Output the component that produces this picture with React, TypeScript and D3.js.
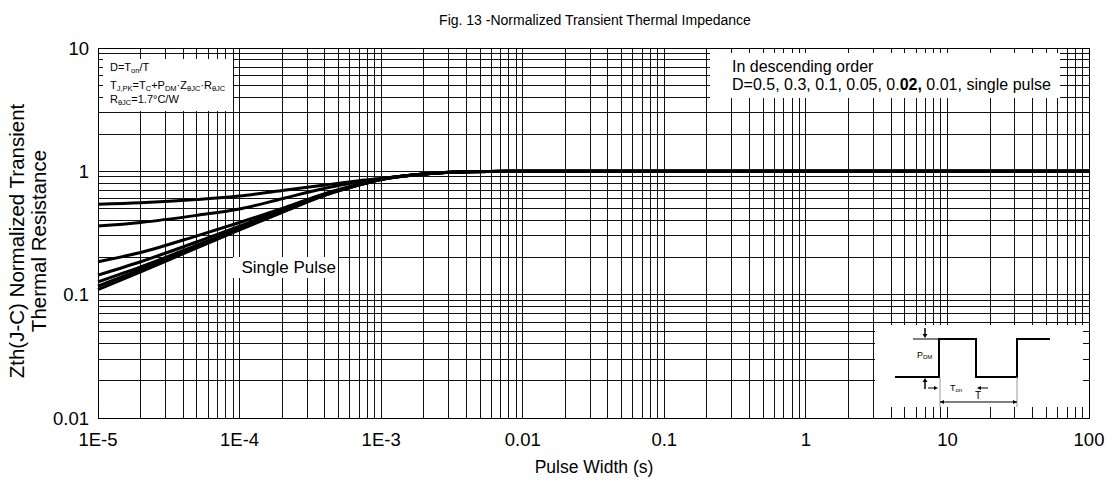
import React from "react";
import * as d3 from "d3";

const pulseWidths = [1e-5, 2e-5, 5e-5, 1e-4, 2e-4, 4e-4, 7e-4, 1e-3, 2e-3, 4e-3, 1e-2, 0.1, 1, 10, 100];
const zD050 = [0.54, 0.555, 0.59, 0.63, 0.70, 0.775, 0.84, 0.875, 0.95, 0.99, 1.0, 1.0, 1.0, 1.0, 1.0];
const zD030 = [0.36, 0.385, 0.44, 0.495, 0.60, 0.73, 0.82, 0.87, 0.95, 0.99, 1.0, 1.0, 1.0, 1.0, 1.0];
const zD010 = [0.185, 0.22, 0.30, 0.385, 0.50, 0.66, 0.785, 0.865, 0.95, 0.99, 1.0, 1.0, 1.0, 1.0, 1.0];
const zD005 = [0.144, 0.185, 0.268, 0.36, 0.48, 0.65, 0.78, 0.862, 0.95, 0.99, 1.0, 1.0, 1.0, 1.0, 1.0];
const zD002 = [0.127, 0.168, 0.252, 0.345, 0.472, 0.645, 0.777, 0.86, 0.95, 0.99, 1.0, 1.0, 1.0, 1.0, 1.0];
const zD001 = [0.117, 0.16, 0.245, 0.34, 0.468, 0.642, 0.776, 0.86, 0.95, 0.99, 1.0, 1.0, 1.0, 1.0, 1.0];
const zSingle = [0.11, 0.153, 0.24, 0.335, 0.465, 0.64, 0.775, 0.86, 0.95, 0.99, 1.0, 1.0, 1.0, 1.0, 1.0];
const seriesList = [zD050, zD030, zD010, zD005, zD002, zD001, zSingle];

const xTickValues = [1e-5, 1e-4, 1e-3, 1e-2, 0.1, 1, 10, 100];
const xTickLabels = ["1E-5", "1E-4", "1E-3", "0.01", "0.1", "1", "10", "100"];
const yTickValues = [10, 1, 0.1, 0.01];
const yTickLabels = ["10", "1", "0.1", "0.01"];

const W = 1106, H = 484;
const L = 98, R = 1089, T = 48, B = 418;
const FONT = "'Liberation Sans', Arial, Helvetica, sans-serif";

function logGrid(lo: number, hi: number): number[] {
  const out: number[] = [];
  for (let e = lo; e < hi; e++) for (let k = 1; k <= 9; k++) out.push(k * Math.pow(10, e));
  out.push(Math.pow(10, hi));
  return out;
}

export default function App() {
  const x = d3.scaleLog().domain([1e-5, 100]).range([L, R]);
  const y = d3.scaleLog().domain([0.01, 10]).range([B, T]);
  const xGrid = logGrid(-5, 2);
  const yGrid = logGrid(-2, 1);
  const line = d3
    .line<[number, number]>()
    .x((d) => x(d[0]))
    .y((d) => y(d[1]))
    .curve(d3.curveMonotoneX);

  const bx = 875, by = 325;
  const hi = by + 14, lo = by + 52;
  const w0 = bx + 20, w1 = bx + 64, w2 = bx + 101, w3 = bx + 142, w4 = bx + 175;
  const ax = bx + 50;

  return (
    <svg width={W} height={H} style={{ position: "absolute", left: 0, top: 0, background: "#fff" }} fontFamily={FONT}>
      <rect x={0} y={0} width={W} height={H} fill="#fff" />
      <text x={595} y={25} fontSize={14} textAnchor="middle" fill="#000">
        Fig. 13 -Normalized Transient Thermal Impedance
      </text>
      {/* grid */}
      <g stroke="#111" strokeWidth={1} shapeRendering="crispEdges">
        {xGrid.map((v, i) => (
          <line key={"gx" + i} x1={x(v)} x2={x(v)} y1={T} y2={B} />
        ))}
        {yGrid.map((v, i) => (
          <line key={"gy" + i} x1={L} x2={R} y1={y(v)} y2={y(v)} />
        ))}
      </g>
      {/* curves */}
      <g fill="none" stroke="#000" strokeWidth={3} strokeLinejoin="round">
        {seriesList.map((s, i) => (
          <path key={"s" + i} d={line(pulseWidths.map((t, j) => [t, s[j]]) as [number, number][]) || ""} />
        ))}
      </g>
      {/* annotation boxes */}
      <rect x={L} y={59} width={135} height={52} fill="#fff" />
      <rect x={710} y={T} width={350} height={50} fill="#fff" />
      <rect x={233} y={257} width={105} height={21} fill="#fff" />
      <rect x={bx} y={by} width={208} height={82} fill="#fff" />
      {/* inward ticks */}
      <g stroke="#111" strokeWidth={1} shapeRendering="crispEdges">
        {xGrid.map((v, i) => (
          <g key={"tx" + i}>
            <line x1={x(v)} x2={x(v)} y1={T} y2={T + 5} />
            <line x1={x(v)} x2={x(v)} y1={B} y2={B - 5} />
          </g>
        ))}
        {yGrid.map((v, i) => (
          <g key={"ty" + i}>
            <line x1={L} x2={L + 5} y1={y(v)} y2={y(v)} />
            <line x1={R} x2={R - 5} y1={y(v)} y2={y(v)} />
          </g>
        ))}
      </g>
      <rect x={L} y={T} width={R - L} height={B - T} fill="none" stroke="#000" strokeWidth={1} shapeRendering="crispEdges" />
      {/* box 1 text */}
      <g fontSize={11} fill="#000">
        <text x={110} y={71}>
          D=T<tspan fontSize={7.5} dy={2}>on</tspan><tspan dy={-2}>/T</tspan>
        </text>
        <text x={110} y={89}>
          T<tspan fontSize={7.5} dy={2}>J,PK</tspan><tspan dy={-2}>=T</tspan>
          <tspan fontSize={7.5} dy={2}>C</tspan><tspan dy={-2}>+P</tspan>
          <tspan fontSize={7.5} dy={2}>DM</tspan><tspan dy={-2}>·Z</tspan>
          <tspan fontSize={7.5} dy={2}>θJC</tspan><tspan dy={-2}>·R</tspan>
          <tspan fontSize={7.5} dy={2}>θJC</tspan>
        </text>
        <text x={110} y={103}>
          R<tspan fontSize={7.5} dy={2}>θJC</tspan><tspan dy={-2}>=1.7°C/W</tspan>
        </text>
      </g>
      {/* box 2 text */}
      <g fontSize={16} fill="#000">
        <text x={732} y={72}>In descending order</text>
        <text x={732} y={90}>
          D=0.5, 0.3, 0.1, 0.05, 0.<tspan fontWeight="bold">02,</tspan> 0.01, single pulse
        </text>
      </g>
      <text x={241.5} y={273} fontSize={17} fill="#000">Single Pulse</text>
      {/* inset waveform */}
      <g>
        <path
          d={`M${w0},${lo}H${w1}V${hi}H${w2}V${lo}H${w3}V${hi}H${w4}`}
          fill="none"
          stroke="#000"
          strokeWidth={2}
        />
        <line x1={bx + 38} x2={w1} y1={hi} y2={hi} stroke="#000" strokeWidth={1} />
        <line x1={ax} x2={ax} y1={by + 3} y2={hi - 4} stroke="#000" strokeWidth={1.5} />
        <path d={`M${ax - 2.5},${hi - 5}L${ax + 2.5},${hi - 5}L${ax},${hi - 1}Z`} fill="#000" />
        <line x1={ax} x2={ax} y1={lo + 12} y2={lo + 4} stroke="#000" strokeWidth={1.5} />
        <path d={`M${ax - 2.5},${lo + 5}L${ax + 2.5},${lo + 5}L${ax},${lo + 1}Z`} fill="#000" />
        <text x={bx + 42} y={by + 33} fontSize={9} fill="#000">
          P<tspan fontSize={6} dy={1}>DM</tspan>
        </text>
        <line x1={bx + 53} x2={w1 - 4} y1={lo + 11} y2={lo + 11} stroke="#000" strokeWidth={1} />
        <path d={`M${w1 - 5},${lo + 9}L${w1 - 5},${lo + 13}L${w1 - 1},${lo + 11}Z`} fill="#000" />
        <text x={bx + 75} y={lo + 14} fontSize={9} fill="#000">
          T<tspan fontSize={6} dy={1}>on</tspan>
        </text>
        <line x1={w2 + 4} x2={w2 + 12} y1={lo + 11} y2={lo + 11} stroke="#000" strokeWidth={1} />
        <path d={`M${w2 + 5},${lo + 9}L${w2 + 5},${lo + 13}L${w2 + 1},${lo + 11}Z`} fill="#000" />
        <line x1={w1 + 1} x2={w1 + 1} y1={lo} y2={by + 82} stroke="#999" strokeWidth={1} />
        <line x1={w3} x2={w3} y1={lo} y2={by + 82} stroke="#999" strokeWidth={1} />
        <line x1={w1 + 1} x2={w3} y1={lo + 25} y2={lo + 25} stroke="#000" strokeWidth={1} />
        <path d={`M${w1 + 1},${lo + 25}L${w1 + 5},${lo + 23}L${w1 + 5},${lo + 27}Z`} fill="#000" />
        <path d={`M${w3},${lo + 25}L${w3 - 4},${lo + 23}L${w3 - 4},${lo + 27}Z`} fill="#000" />
        <text x={(w1 + w3) / 2} y={lo + 22} fontSize={10} textAnchor="middle" fill="#000">T</text>
      </g>
      {/* axis labels */}
      <g fontSize={18.5} fill="#000">
        {xTickValues.map((v, i) => (
          <text key={"xl" + i} x={x(v)} y={446} textAnchor="middle">{xTickLabels[i]}</text>
        ))}
        {yTickValues.map((v, i) => (
          <text key={"yl" + i} x={89} y={y(v)} textAnchor="end" dominantBaseline="central">{yTickLabels[i]}</text>
        ))}
      </g>
      <text x={594} y={473} fontSize={17.5} textAnchor="middle" fill="#000">Pulse Width (s)</text>
      <g transform="translate(24,241) rotate(-90)" fontSize={20.5} fill="#000" textAnchor="middle">
        <text x={0} y={0}>Zth(J-C) Normalized Transient</text>
        <text x={0} y={22}>Thermal Resistance</text>
      </g>
    </svg>
  );
}
